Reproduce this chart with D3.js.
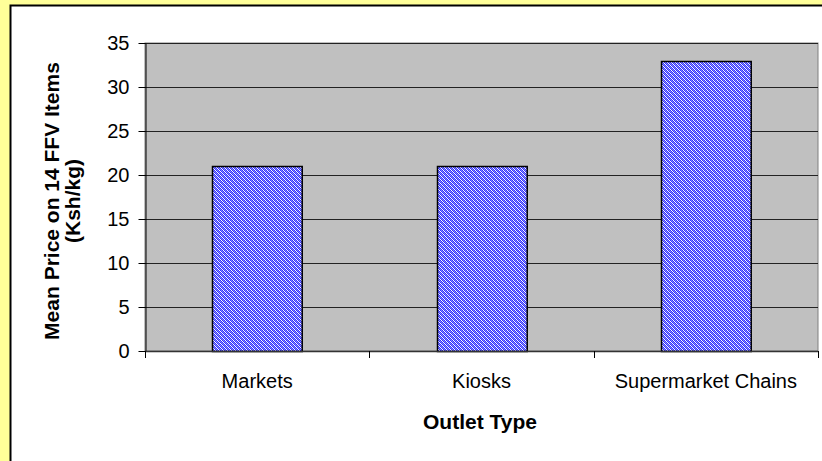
<!DOCTYPE html>
<html>
<head>
<meta charset="utf-8">
<script src="https://cdn.jsdelivr.net/npm/d3@7"></script>
<style>
  body { margin: 0; background: #FFFF99; }
  svg { display: block; font-family: "Liberation Sans", Arial, sans-serif; }
</style>
</head>
<body>
<div id="vis"></div>
<script>
const FRAME_WIDTH = 822;
const FRAME_HEIGHT = 461;
const PLOT = {left: 145, right: 818, top: 43, bottom: 351};

// data
const outlets = ["Markets", "Kiosks", "Supermarket Chains"];
const meanPrice = [21, 21, 33];
const yTicks = [0, 5, 10, 15, 20, 25, 30, 35];

const svg = d3.select('#vis')
  .append('svg')
    .attr('width', FRAME_WIDTH)
    .attr('height', FRAME_HEIGHT);

// checkered blue fill like the old excel pattern
const pat = svg.append('defs').append('pattern')
  .attr('id', 'checks')
  .attr('patternUnits', 'userSpaceOnUse')
  .attr('width', 4).attr('height', 4);
pat.append('rect').attr('width', 4).attr('height', 4).attr('fill', '#ffffff');
[0, 1, 2, 3].forEach(i => {
  pat.append('rect').attr('x', i).attr('y', i % 4).attr('width', 1).attr('height', 1).attr('fill', '#3333ff').attr('shape-rendering', 'crispEdges');
  pat.append('rect').attr('x', i).attr('y', (i + 2) % 4).attr('width', 1).attr('height', 1).attr('fill', '#3333ff').attr('shape-rendering', 'crispEdges');
  pat.append('rect').attr('x', i).attr('y', (i + 1) % 4).attr('width', 1).attr('height', 1).attr('fill', '#8888ff').attr('shape-rendering', 'crispEdges');
});

// white chart area with black border
svg.append('rect')
  .attr('x', 10.5).attr('y', 5.5)
  .attr('width', 830).attr('height', 470)
  .attr('fill', '#ffffff')
  .attr('stroke', '#000').attr('stroke-width', 2);

const x = d3.scaleBand()
  .domain(outlets)
  .range([PLOT.left, PLOT.right])
  .paddingInner(0.6)
  .paddingOuter(0.3);

const y = d3.scaleLinear()
  .domain([0, 35])
  .range([PLOT.bottom, PLOT.top]);

// plot background
svg.append('rect')
  .attr('x', PLOT.left).attr('y', PLOT.top)
  .attr('width', PLOT.right - PLOT.left).attr('height', PLOT.bottom - PLOT.top)
  .attr('fill', '#c0c0c0')
  .attr('stroke', '#808080').attr('stroke-width', 1);

// gridlines
svg.append('g')
  .selectAll('line')
  .data(yTicks.slice(1))
  .enter()
  .append('line')
    .attr('x1', PLOT.left).attr('x2', PLOT.right)
    .attr('y1', d => Math.round(y(d)) + 0.5)
    .attr('y2', d => Math.round(y(d)) + 0.5)
    .attr('stroke', '#222').attr('stroke-width', 1);

// bars
svg.append('g')
  .selectAll('rect')
  .data(outlets)
  .enter()
  .append('rect')
    .attr('x', d => Math.round(x(d)) + 0.5)
    .attr('y', (d, i) => Math.round(y(meanPrice[i])) + 0.5)
    .attr('width', x.bandwidth())
    .attr('height', (d, i) => y(0) - Math.round(y(meanPrice[i])))
    .attr('fill', 'url(#checks)')
    .attr('stroke', '#000').attr('stroke-width', 1.5);

// y axis
const yAxis = svg.append('g')
  .attr('transform', 'translate(' + (PLOT.left + 0.5) + ',0)')
  .call(d3.axisLeft(y).tickValues(yTicks).tickSize(7).tickPadding(9).tickSizeOuter(0));
yAxis.selectAll('text').attr('font-size', '20px').attr('fill', '#000').style('font-family', '"Liberation Sans", Arial, sans-serif');
yAxis.selectAll('line, path').attr('stroke', '#000');

// x axis with ticks between categories
const xEdges = [0, 1, 2, 3].map(i => PLOT.left + i * (PLOT.right - PLOT.left) / 3);
svg.append('line')
  .attr('x1', PLOT.left).attr('x2', PLOT.right)
  .attr('y1', PLOT.bottom + 0.5).attr('y2', PLOT.bottom + 0.5)
  .attr('stroke', '#333').attr('stroke-width', 1.5);
svg.append('g')
  .selectAll('line')
  .data(xEdges)
  .enter()
  .append('line')
    .attr('x1', d => Math.round(d) + 0.5).attr('x2', d => Math.round(d) + 0.5)
    .attr('y1', PLOT.bottom).attr('y2', PLOT.bottom + 7)
    .attr('stroke', '#000');
svg.append('g')
  .selectAll('text')
  .data(outlets)
  .enter()
  .append('text')
    .attr('x', d => x(d) + x.bandwidth() / 2)
    .attr('y', 388)
    .attr('text-anchor', 'middle')
    .attr('font-size', '20px')
    .text(d => d);

// axis titles
svg.append('text')
  .attr('x', 480).attr('y', 429)
  .attr('text-anchor', 'middle')
  .attr('font-size', '21px').attr('font-weight', 'bold')
  .text('Outlet Type');

const yTitle = svg.append('text')
  .attr('transform', 'translate(59,201) rotate(-90)')
  .attr('text-anchor', 'middle')
  .attr('font-size', '21px').attr('font-weight', 'bold');
yTitle.append('tspan').attr('x', 0).attr('y', 0).text('Mean Price on 14 FFV Items');
yTitle.append('tspan').attr('x', 0).attr('y', 21).text('(Ksh/kg)');
</script>
</body>
</html>
